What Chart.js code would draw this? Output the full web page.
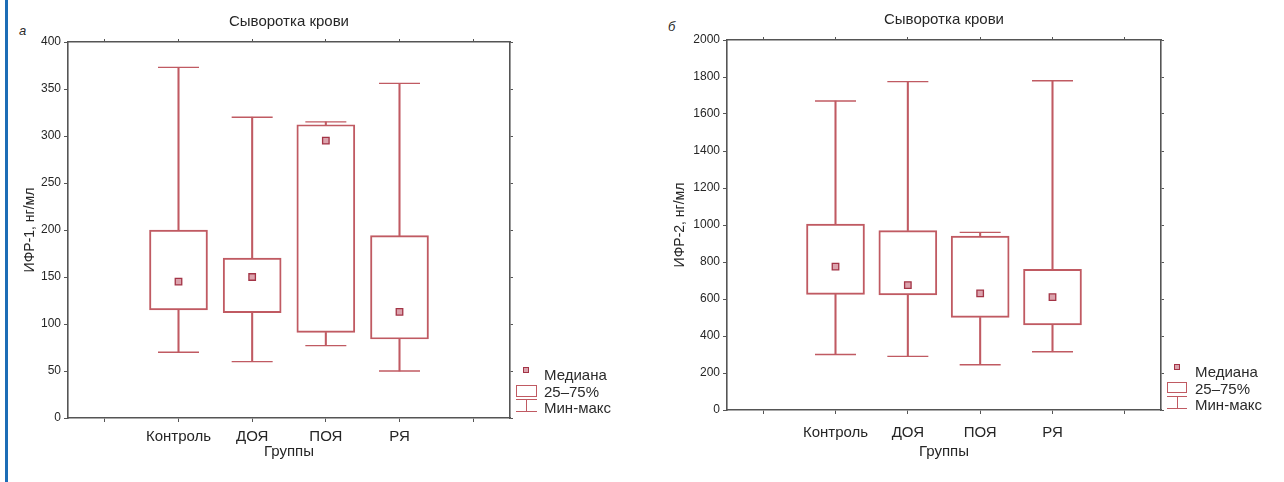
<!DOCTYPE html>
<html>
<head>
<meta charset="utf-8">
<script src="https://cdn.jsdelivr.net/npm/chart.js@4.4.1/dist/chart.umd.min.js"></script>
<style>
  body { margin: 0; background: #fff; width: 1284px; height: 482px; overflow: hidden; position: relative;
         font-family: "Liberation Sans", Arial, sans-serif; color: #2b2b2b; }
  canvas { position: absolute; top: 0; }
  #left { left: 0; }
  #right { left: 640px; }
  .bar { position: absolute; left: 5px; top: 0; width: 2.5px; height: 482px; background: #1c6db6; }
  .letter { position: absolute; font-style: italic; font-size: 13px; }
  .legend { position: absolute; font-size: 15px; line-height: 16.5px; }
  .legend .row { position: relative; height: 16.5px; padding-left: 28px; white-space: nowrap; }
  .mk { position: absolute; box-sizing: border-box; }
</style>
</head>
<body>
<div class="bar"></div>
<div class="letter" style="left:19px; top:23px;">а</div>
<div class="letter" style="left:668px; top:19px;">б</div>
<canvas id="left" width="560" height="482"></canvas>
<canvas id="right" width="600" height="482"></canvas>

<div class="legend" style="left:516px; top:367px;">
  <div class="row"><span class="mk" style="left:7px; top:0px; width:6px; height:6px; border:1.3px solid #a33446; background:#dba3ad;"></span>Медиана</div>
  <div class="row"><span class="mk" style="left:0; top:1px; width:21px; height:12px; border:1.3px solid #c05a62;"></span>25–75%</div>
  <div class="row"><span class="mk" style="left:0; top:-1px; width:21px; height:13px; border-top:1.3px solid #c05a62; border-bottom:1.3px solid #c05a62;"></span><span class="mk" style="left:10px; top:-1px; width:1.3px; height:13px; background:#c05a62;"></span>Мин-макс</div>
</div>
<div class="legend" style="left:1167px; top:364px;">
  <div class="row"><span class="mk" style="left:7px; top:0px; width:6px; height:6px; border:1.3px solid #a33446; background:#dba3ad;"></span>Медиана</div>
  <div class="row"><span class="mk" style="left:0; top:1px; width:20px; height:11px; border:1.3px solid #c05a62;"></span>25–75%</div>
  <div class="row"><span class="mk" style="left:0; top:-1px; width:20px; height:13px; border-top:1.3px solid #c05a62; border-bottom:1.3px solid #c05a62;"></span><span class="mk" style="left:9.5px; top:-1px; width:1.3px; height:13px; background:#c05a62;"></span>Мин-макс</div>
</div>

<script>
// groups on the x axis (first and last slots are empty, as in the original)
const groups = ['Контроль', 'ДОЯ', 'ПОЯ', 'РЯ'];
const labels = ['', ...groups, ''];

// ИФР-1, нг/мл
const igf1Min = [70, 60, 77, 50];
const igf1Q1 = [115, 112, 91, 84];
const igf1Median = [145, 150, 295, 113];
const igf1Q3 = [200, 170, 312, 194];
const igf1Max = [373, 320, 315, 356];

// ИФР-2, нг/мл
const igf2Min = [300, 290, 245, 315];
const igf2Q1 = [625, 622, 500, 460];
const igf2Median = [775, 675, 630, 610];
const igf2Q3 = [1005, 970, 940, 760];
const igf2Max = [1670, 1775, 960, 1780];

// y axis ticks
const igf1Ticks = [0, 50, 100, 150, 200, 250, 300, 350, 400];
const igf2Ticks = [0, 200, 400, 600, 800, 1000, 1200, 1400, 1600, 1800, 2000];

const RED = '#c05a62';
const AXIS = '#555';
const TEXT = '#262626';
const FONT = '"Liberation Sans", Arial, sans-serif';

const pad = arr => [null, ...arr, null];
const range = (a, b) => pad(a.map((v, i) => [v, b[i]]));

function makeChart(id, s, L) {
  const yTicks = s.ticks;
  const step = yTicks[1] - yTicks[0];
  return new Chart(document.getElementById(id), {
    type: 'bar',
    data: {
      labels: labels,
      datasets: [
        { data: range(s.min, s.q1), grouped: false, barThickness: 1.4, backgroundColor: RED, borderWidth: 0 },
        { data: range(s.q3, s.max), grouped: false, barThickness: 1.4, backgroundColor: RED, borderWidth: 0 },
        { data: range(s.q1, s.q3), grouped: false, barThickness: 58, backgroundColor: 'rgba(255,255,255,0)',
          borderColor: RED, borderWidth: 1.3, borderSkipped: false },
        { type: 'line', data: pad(s.max), showLine: false, pointStyle: 'line', pointRadius: 20.5,
          borderColor: RED, pointBorderWidth: 1.4 },
        { type: 'line', data: pad(s.min), showLine: false, pointStyle: 'line', pointRadius: 20.5,
          borderColor: RED, pointBorderWidth: 1.4 },
        { type: 'line', data: pad(s.median), showLine: false, pointStyle: 'rect', pointRadius: 4.6,
          pointBackgroundColor: '#dba3ad', pointBorderColor: '#a33446', pointBorderWidth: 1.3 }
      ]
    },
    options: {
      responsive: false,
      animation: false,
      events: [],
      layout: { padding: { left: L.padLeft, right: L.padRight, top: 0, bottom: 19 } },
      plugins: { legend: { display: false }, tooltip: { enabled: false }, title: { display: false } },
      scales: {
        x: {
          offset: true,
          grid: { drawOnChartArea: false, offset: false, tickLength: 4, color: AXIS },
          border: { color: AXIS, width: 1.6 },
          ticks: { color: TEXT, font: { family: FONT, size: 15 }, padding: L.tickPad, maxRotation: 0, autoSkip: false },
          title: { display: true, text: 'Группы', color: TEXT, font: { family: FONT, size: 15 }, padding: { top: 0, bottom: 2 } },
          afterFit: sc => { sc.height = L.xHeight; }
        },
        x2: {
          position: 'top',
          offset: true,
          grid: { drawOnChartArea: false, offset: false, tickLength: 3, color: AXIS },
          border: { color: AXIS, width: 1.6 },
          ticks: { display: false },
          title: { display: true, text: 'Сыворотка крови', color: TEXT, font: { family: FONT, size: 15 }, padding: { top: L.titleTop, bottom: 0 } },
          afterFit: sc => { sc.height = L.topHeight; }
        },
        y: {
          min: yTicks[0], max: yTicks[yTicks.length - 1],
          grid: { drawOnChartArea: false, tickLength: 4, color: AXIS },
          border: { color: AXIS, width: 1.6 },
          ticks: { stepSize: step, color: TEXT, font: { family: FONT, size: 12 }, padding: 3, callback: v => String(v) },
          title: { display: true, text: s.title, color: TEXT, font: { family: FONT, size: 14 } },
          afterFit: sc => { sc.width = L.yWidth; }
        },
        y2: {
          position: 'right',
          min: yTicks[0], max: yTicks[yTicks.length - 1],
          grid: { drawOnChartArea: false, tickLength: 3, color: AXIS },
          border: { color: AXIS, width: 1.6 },
          ticks: { display: false, stepSize: step },
          afterFit: sc => { sc.width = 4; }
        }
      }
    }
  });
}

makeChart('left',
  { min: igf1Min, q1: igf1Q1, median: igf1Median, q3: igf1Q3, max: igf1Max, ticks: igf1Ticks, title: 'ИФР-1, нг/мл' },
  { padLeft: 18, padRight: 46, yWidth: 50, xHeight: 45, topHeight: 42, titleTop: 13, tickPad: 6 });

makeChart('right',
  { min: igf2Min, q1: igf2Q1, median: igf2Median, q3: igf2Q3, max: igf2Max, ticks: igf2Ticks, title: 'ИФР-2, нг/мл' },
  { padLeft: 28, padRight: 75, yWidth: 59, xHeight: 53, topHeight: 40, titleTop: 11, tickPad: 10 });
</script>
</body>
</html>
